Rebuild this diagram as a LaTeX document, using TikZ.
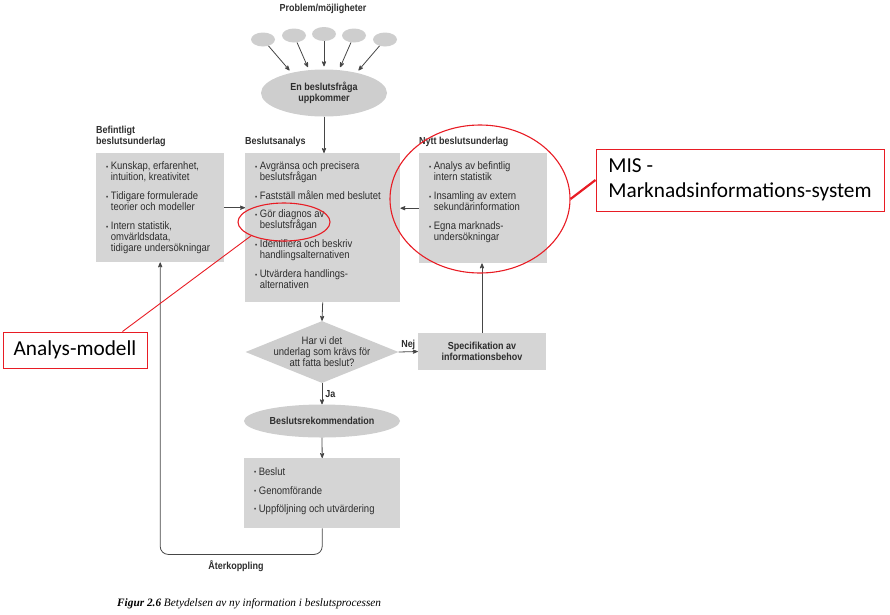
\documentclass[tikz,border=0pt]{standalone}
\usepackage{fontspec}
\setmainfont{Liberation Sans}
\newfontfamily\diafont{Liberation Sans}[FakeStretch=0.88]
\newfontfamily\notefont{Carlito}
\newfontfamily\capfont{Liberation Serif}
\usepackage{tikz}
\usetikzlibrary{calc}
\usetikzlibrary{positioning}
\usetikzlibrary{shapes}
\usetikzlibrary{arrows}
\definecolor{fillgray}{RGB}{213,213,213}
\definecolor{ellgray}{RGB}{206,206,206}
\definecolor{inkgray}{RGB}{45,45,45}
\definecolor{linegray}{RGB}{70,70,70}
\definecolor{markred}{RGB}{232,28,36}
\newcommand{\itm}{\raisebox{0.5pt}{\fontsize{7}{7}\selectfont\textbullet}\hspace{2.5pt}}
\newcommand{\ind}{\phantom{\itm}}
\tikzset{
  txt_base/.style = {inner sep=0pt, text=inkgray,
    font=\diafont\fontsize{10.8}{11}\selectfont},
  box_g/.style = {rectangle, fill=fillgray, inner sep=0pt},      % gray box
  box_txt/.style = {txt_base, align=left, anchor=north west},  % bullet text
  ell_g/.style = {ellipse, fill=ellgray, inner sep=0pt},         % gray ellipse
  dia_g/.style = {diamond, fill=ellgray, inner sep=0pt},         % question
  lbl_b/.style = {txt_base, font=\diafont\bfseries\fontsize{10.2}{11.5}\selectfont,
    align=left},                                               % bold label
  note_r/.style = {rectangle, draw=markred, fill=white, line width=1pt,
    inner sep=0pt, text=black, font=\notefont\fontsize{21.3}{25}\selectfont},
  ring_r/.style = {ellipse, draw=markred, line width=1.1pt, inner sep=0pt},
  arr/.style = {->, draw=linegray, line width=0.8pt}
}

\begin{document}
\begin{tikzpicture}[x=1pt,y=-1pt,>=stealth']
    \useasboundingbox (0,0) rectangle (890,614);

    % problem bubbles
    \node [lbl_b] (prob) at (323,8.5) {Problem/möjligheter};
    \node [ell_g, minimum width=24, minimum height=14] (p1) at (263,39.5) {};
    \node [ell_g, minimum width=24, minimum height=14] (p2) at (294,35.5) {};
    \node [ell_g, minimum width=24, minimum height=14] (p3) at (324,34) {};
    \node [ell_g, minimum width=24, minimum height=14] (p4) at (354,35.5) {};
    \node [ell_g, minimum width=24, minimum height=14] (p5) at (385,39.5) {};
    \node [ell_g, lbl_b, align=center, minimum width=126, minimum height=47]
        (fraga) at (324,93) {En beslutsfråga\\uppkommer};
    \draw [arr, shorten >=3pt] (p1) -- (fraga.148);
    \draw [arr, shorten >=3pt] (p2) -- (fraga.123);
    \draw [arr, shorten >=3pt] (p3) -- (fraga.90);
    \draw [arr, shorten >=3pt] (p4) -- (fraga.57);
    \draw [arr, shorten >=3pt] (p5) -- (fraga.32);

    % the three boxes
    \node [box_g, anchor=north west, minimum width=128, minimum height=109]
        (bef) at (96,153) {};
    \node [box_g, anchor=north west, minimum width=155, minimum height=149]
        (ana) at (245,153) {};
    \node [box_g, anchor=north west, minimum width=128, minimum height=110]
        (nytt) at (419,153) {};
    \node [lbl_b, anchor=south west] (bef_h) at ([yshift=6pt]bef.north west)
        {Befintligt\\beslutsunderlag};
    \node [lbl_b, anchor=south west] (ana_h) at ([yshift=6pt]ana.north west)
        {Beslutsanalys};
    \node [lbl_b, anchor=south west] (nytt_h) at ([yshift=6pt]nytt.north west)
        {Nytt beslutsunderlag};
    \node [box_txt] (bef_t) at ([shift={(10pt,-8.5pt)}]bef.north west)
        {\itm Kunskap, erfarenhet,\\ \ind intuition, kreativitet\\[8pt]
         \itm Tidigare formulerade\\ \ind teorier och modeller\\[8pt]
         \itm Intern statistik,\\ \ind omvärldsdata,\\ \ind tidigare undersökningar};
    \node [box_txt] (ana_t) at ([shift={(10pt,-8.5pt)}]ana.north west)
        {\itm Avgränsa och precisera\\ \ind beslutsfrågan\\[8pt]
         \itm Fastställ målen med beslutet\\[7pt]
         \itm Gör diagnos av\\ \ind beslutsfrågan\\[8pt]
         \itm Identifiera och beskriv\\ \ind handlingsalternativen\\[8pt]
         \itm Utvärdera handlings-\\ \ind alternativen};
    \node [box_txt] (nytt_t) at ([shift={(10pt,-8.5pt)}]nytt.north west)
        {\itm Analys av befintlig\\ \ind intern statistik\\[8pt]
         \itm Insamling av extern\\ \ind sekundärinformation\\[8pt]
         \itm Egna marknads-\\ \ind undersökningar};

    % decision
    \node [dia_g, minimum width=153, minimum height=62] (dia) at (322,352) {};
    \node [txt_base, align=center] (dia_t) at (dia.center)
        {Har vi det\\underlag som krävs för\\att fatta beslut?};
    \node [box_g, lbl_b, align=center, minimum width=128, minimum height=37]
        (spec) at (482,351.5) {Specifikation av\\informationsbehov};
    \node [ell_g, lbl_b, minimum width=156, minimum height=33]
        (rek) at (322,421) {Beslutsrekommendation};
    \node [box_g, anchor=north west, minimum width=156, minimum height=70]
        (fin) at (244,458) {};
    \node [box_txt] (fin_t) at ([shift={(10pt,-9pt)}]fin.north west)
        {\itm Beslut\\[8pt] \itm Genomförande\\[7pt] \itm Uppföljning och utvärdering};

    % connectors
    \draw [arr] (fraga.south) -- (fraga.south |- ana.north);
    \draw [arr] (bef.east) -- (bef.east -| ana.west);
    \draw [arr] (nytt.west) -- (nytt.west -| ana.east);
    \draw [arr] (ana.south) -- (dia.north);
    \draw [arr] (dia.east) -- (spec.west) node [lbl_b, midway, above=1.5pt] (nej) {Nej};
    \draw [arr] (spec.north) -- (spec.north |- nytt.south);
    \draw [arr] (dia.south) -- (rek.north) node [lbl_b, midway, right=3pt] (ja) {Ja};
    \draw [arr] (rek.south) -- (fin.north);
    \draw [arr, rounded corners=8pt] (fin.south) -- ++(0,26) -| (bef.south);
    \node [lbl_b] (aterk) at (236,566) {Återkoppling};

    % caption
    \node [anchor=base west, inner sep=0pt, font=\capfont\fontsize{11.3}{13}\selectfont]
        (cap) at (117,606)
        {\textbf{\textit{Figur 2.6}} \textit{Betydelsen av ny information i beslutsprocessen}};

    % red notes
    \node [ring_r, minimum width=92, minimum height=38] (diag) at (284,222) {};
    \node [ring_r, minimum width=180, minimum height=148] (misring) at (480,199) {};
    \node [note_r, minimum width=144, minimum height=36] (amod) at (75,350) {Analys-modell};
    \node [note_r, align=left, minimum width=288, minimum height=62]
        (mis) at (740,180) {MIS -\\Marknadsinformations-system};
    \draw [markred, line width=0.9pt] (diag.south west) -- ([xshift=-25pt]amod.north east);
    \draw [markred, line width=2.2pt] (misring.east) -- (mis.west);
\end{tikzpicture}
\end{document}
